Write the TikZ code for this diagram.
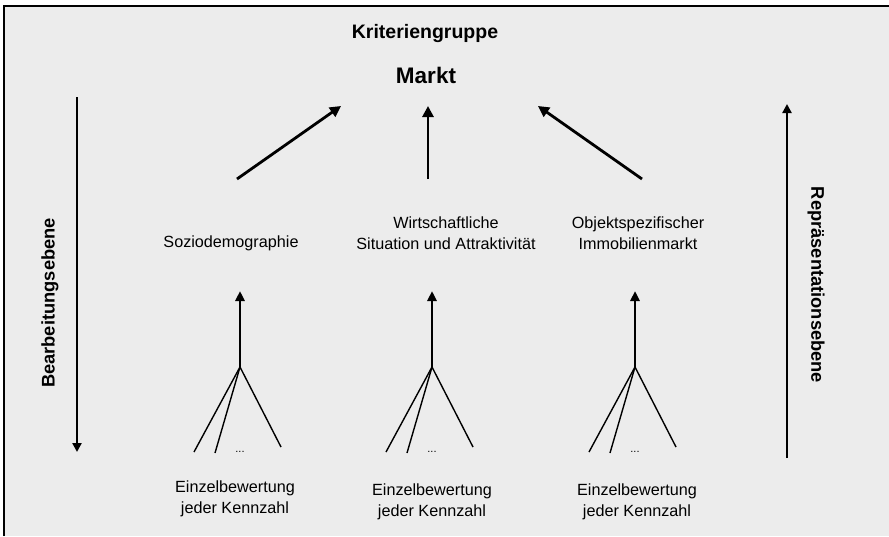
\documentclass[tikz,border=0pt]{standalone}
\usepackage{fontspec}
\setmainfont{Liberation Sans}
\usetikzlibrary{arrows.meta}
\begin{document}
\begin{tikzpicture}[x=1pt,y=-1pt,
  lbl/.style={inner sep=0pt, align=center, font=\fontsize{16.2}{20.5}\selectfont},
  ttl/.style={inner sep=0pt, font=\fontsize{19.5}{22}\selectfont\bfseries},
  side/.style={inner sep=0pt, font=\fontsize{18.3}{22}\selectfont\bfseries},
  bigarrow/.style={line width=2.8pt, -{Triangle[length=11pt,width=11pt]}},
  treearrow/.style={line width=2.7pt, -{Triangle[length=10pt,width=9pt]}},
  sidearrow/.style={line width=2.3pt, -{Triangle[length=9pt,width=9pt]}},
  branch/.style={line width=1.4pt}]
\useasboundingbox (0,0) rectangle (889,536);
\fill[white] (0,0) rectangle (889,536);
\fill[gray!15] (4,6) rectangle (889,536);
\draw[line width=2pt] (4,536) -- (4,6) -- (889,6);

\node[ttl] (krit) at (425,33) {Kriteriengruppe};
\node[ttl, font=\fontsize{22.5}{26}\selectfont\bfseries] (markt) at (426,75) {Markt};

\coordinate (m1) at (341,106);
\coordinate (m2) at (428,106);
\coordinate (m3) at (538,106);
\coordinate (s1) at (237,179);
\coordinate (s2) at (428,179);
\coordinate (s3) at (642,179);
\draw[bigarrow] (s1) -- (m1);
\draw[bigarrow] (s2) -- (m2);
\draw[bigarrow] (s3) -- (m3);

\node[lbl] (k1) at (231,243) {Soziodemographie};
\node[lbl] (k2) at (446,233) {Wirtschaftliche\\Situation und Attraktivität};
\node[lbl] (k3) at (638,233) {Objektspezifischer\\Immobilienmarkt};

% trees
\foreach \i/\x in {1/240,2/432,3/635}{
  \coordinate (j\i) at (\x,367);
  \coordinate (t\i) at (\x,291);
  \coordinate (a\i) at (\x-46,452);
  \coordinate (b\i) at (\x-25,453);
  \coordinate (c\i) at (\x+41,447);
  \draw[treearrow] (j\i) -- (t\i);
  \draw[branch] (a\i) -- (j\i) -- (c\i);
  \draw[branch] (b\i) -- (j\i);
  \node[inner sep=0pt, font=\fontsize{11}{12}\selectfont] (d\i) at (\x,452) {...};
}

\node[lbl] (e1) at (235,499) {Einzelbewertung\\jeder Kennzahl};
\node[lbl] (e2) at (432,502) {Einzelbewertung\\jeder Kennzahl};
\node[lbl] (e3) at (637,502) {Einzelbewertung\\jeder Kennzahl};

% side arrows
\coordinate (l1) at (77,97);
\coordinate (l2) at (77,452);
\draw[sidearrow] (l1) -- (l2);
\node[side, rotate=90] (bearb) at (50,303) {Bearbeitungsebene};

\coordinate (r1) at (787,458);
\coordinate (r2) at (787,104);
\draw[sidearrow] (r1) -- (r2);
\node[side, rotate=-90] (repr) at (816,285) {Repräsentationsebene};
\end{tikzpicture}
\end{document}
